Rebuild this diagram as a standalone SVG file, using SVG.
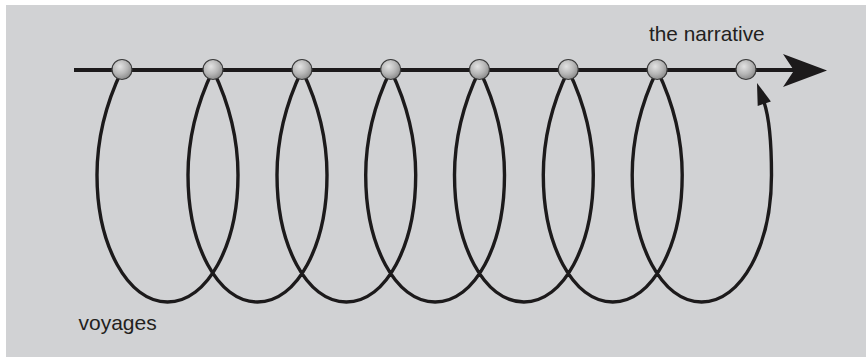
<svg xmlns="http://www.w3.org/2000/svg" width="866" height="357" viewBox="0 0 866 357">
  <style>
    .loop { fill: none; stroke: #1c1a1b; stroke-width: 3.4; stroke-linecap: round; }
    .axis { fill: none; stroke: #1c1a1b; stroke-width: 4; }
    .ball { fill: url(#ballGrad); stroke: #3a3a3a; stroke-width: 1.2; }
    .label { font-family: "Liberation Sans", Arial, sans-serif; fill: #231f20; }
    .head { fill: #1c1a1b; }
  </style>
  <defs>
    <radialGradient id="ballGrad" cx="0.4" cy="0.35" r="0.7">
      <stop offset="0" stop-color="#e2e2e2"/>
      <stop offset="0.55" stop-color="#b6b6b6"/>
      <stop offset="1" stop-color="#858585"/>
    </radialGradient>
  </defs>
  <rect x="6" y="5" width="860" height="352" fill="#d1d2d4"/>
  <g id="connectors">
    <line class="axis" x1="74" y1="70" x2="796" y2="70"/>
    <polygon class="head" points="827,70.5 783,54 794,70.5 783,87"/>
    <path id="voyage-curve" class="loop" d="M122,70 C110,95 97,130 97,175 C97,245 127.5,302 167.5,302 C207.5,302 238,245 238,175 C238,130 225,95 213,70
      C201,95 188,130 188,175 C188,245 217.5,302 257.5,302 C297.5,302 327,245 327,175 C327,130 314,95 302,70
      C290,95 277,130 277,175 C277,245 306.35,302 346.35,302 C386.35,302 415.7,245 415.7,175 C415.7,130 402.7,95 390.7,70
      C378.7,95 365.7,130 365.7,175 C365.7,245 395.1,302 435.1,302 C475.1,302 504.5,245 504.5,175 C504.5,130 491.5,95 479.5,70
      C467.5,95 454.5,130 454.5,175 C454.5,245 483.9,302 523.9,302 C563.9,302 593.3,245 593.3,175 C593.3,130 580.3,95 568.3,70
      C556.3,95 543.3,130 543.3,175 C543.3,245 572.75,302 612.75,302 C652.75,302 682.2,245 682.2,175 C682.2,130 669.2,95 657.2,70
      C645.2,95 632.2,130 632.2,175 C632.2,245 661.6,302 701.6,302 C741.6,302 771.5,245 771.5,175 C771.5,140 768,114 764,102"/>
    <polygon class="head" points="757,83 770.9,101.4 757.7,106"/>
  </g>
  <g id="node-1"><circle class="ball" cx="122" cy="69.5" r="10"/></g>
  <g id="node-2"><circle class="ball" cx="213" cy="69.5" r="10"/></g>
  <g id="node-3"><circle class="ball" cx="302" cy="69.5" r="10"/></g>
  <g id="node-4"><circle class="ball" cx="390.7" cy="69.5" r="10"/></g>
  <g id="node-5"><circle class="ball" cx="479.5" cy="69.5" r="10"/></g>
  <g id="node-6"><circle class="ball" cx="568.3" cy="69.5" r="10"/></g>
  <g id="node-7"><circle class="ball" cx="657.2" cy="69.5" r="10"/></g>
  <g id="node-8"><circle class="ball" cx="746" cy="69.5" r="10"/></g>
  <g id="label-narrative"><text class="label" x="649" y="41" font-size="20.8">the narrative</text></g>
  <g id="label-voyages"><text class="label" x="78.5" y="330" font-size="21">voyages</text></g>
</svg>
